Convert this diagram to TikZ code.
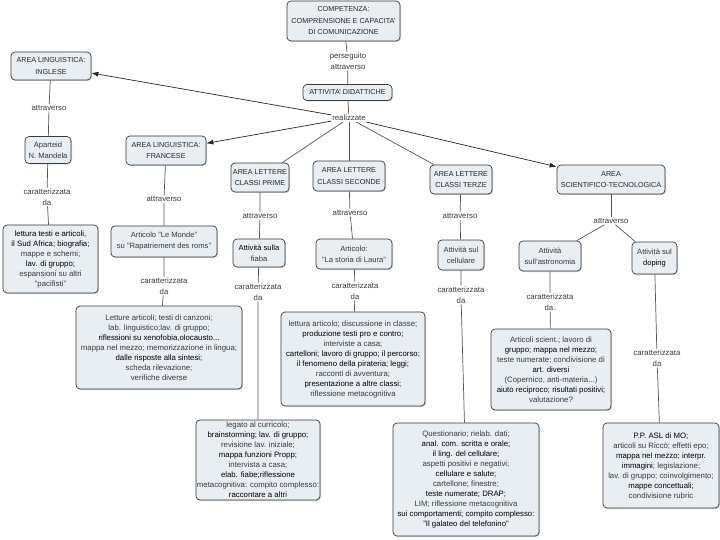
\documentclass[tikz,border=0pt]{standalone}
\usepackage{fontspec}
\setmainfont{Liberation Sans}
\usetikzlibrary{arrows.meta,shadows}
\definecolor{boxfill}{HTML}{E8EEF1}
\definecolor{boxline}{HTML}{3A3A3A}
\definecolor{linec}{HTML}{555555}
\definecolor{txtc}{HTML}{3A3A3A}
\newcommand{\dk}[1]{\textcolor{black}{#1}}
\begin{document}
\begin{tikzpicture}[x=1pt,y=-1pt,
  base/.style={draw=boxline, fill=boxfill, rounded corners=4pt, line width=0.7pt,
    align=center, inner sep=1pt, text=txtc,
    drop shadow={shadow xshift=1pt,shadow yshift=-1pt,fill=black!35}},
  head/.style={base, text=black!85, font=\fontsize{7.2}{11.5}\selectfont},
  small/.style={base, font=\fontsize{7.6}{11}\selectfont},
  txtbox/.style={base, font=\fontsize{7.8}{10}\selectfont},
  lbl/.style={fill=white, inner sep=1pt, align=center, text=txtc,
    font=\fontsize{7.8}{10.5}\selectfont},
  conn/.style={draw=linec, line width=0.7pt},
  arr/.style={draw=black!85, line width=0.7pt, -{Latex[length=7pt,width=5pt]}}]
\useasboundingbox (0,0) rectangle (720,540);
\fill[white] (0,0) rectangle (720,540);

% top
\node[head, minimum width=113pt, minimum height=40pt] (comp) at (343.5,21)
  {COMPETENZA:\\COMPRENSIONE E CAPACITA'\\DI COMUNICAZIONE};
\node[lbl] (pers) at (348,61) {perseguito\\attraverso};
\node[head, minimum width=89pt, minimum height=16pt] (att) at (347.5,92.5) {ATTIVITA' DIDATTICHE};
\node[lbl] (real) at (349,118) {realizzate};

% inglese
\node[head, minimum width=80pt, minimum height=28pt] (ing) at (51,66) {AREA LINGUISTICA:\\INGLESE};
\node[lbl] (ingA) at (49,108) {attraverso};
\node[small, minimum width=46pt, minimum height=27pt] (apar) at (48,150) {Aparteid\\N. Mandela};
\node[lbl] (ingC) at (47,197) {caratterizzata\\da};
\node[txtbox, minimum width=95pt, minimum height=68pt] (ingT) at (50.5,259)
  {\dk{lettura testi e articoli,}\\\dk{il Sud Africa; biografia;}\\mappe e schemi;\\\dk{lav. di gruppo;}\\espansioni su altri\\"pacifisti"};

% francese
\node[head, minimum width=80pt, minimum height=29pt] (fra) at (166,150.5) {AREA LINGUISTICA:\\FRANCESE};
\node[lbl] (fraA) at (164,199) {attraverso};
\node[small, minimum width=106pt, minimum height=31pt] (lem) at (164,241.5) {Articolo "Le Monde"\\su "Rapatriement des roms"};
\node[lbl] (fraC) at (164,286) {caratterizzata\\da};
\node[txtbox, minimum width=166pt, minimum height=83pt] (fraT) at (159,347.5)
  {Letture articoli; testi di canzoni;\\lab. linguistico;lav. di gruppo;\\\dk{riflessioni su xenofobia,olocausto...}\\mappa nel mezzo; memorizzazione in lingua;\\\dk{dalle risposte alla sintesi;}\\scheda rilevazione;\\verifiche diverse};

% prime
\node[head, minimum width=58pt, minimum height=29pt] (pri) at (260,177.5) {AREA LETTERE\\CLASSI PRIME};
\node[lbl] (priA) at (260,216) {attraverso};
\node[small, minimum width=52pt, minimum height=28pt] (fia) at (259,253) {\dk{Attività sulla}\\fiaba};
\node[lbl] (priC) at (258,292) {caratterizzata\\da};
\node[txtbox, minimum width=124pt, minimum height=80pt] (priT) at (258,460)
  {legato al curricolo;\\\dk{brainstorming; lav. di gruppo;}\\revisione lav. iniziale;\\\dk{mappa funzioni Propp;}\\intervista a casa;\\\dk{elab. fiabe;riflessione}\\metacognitiva: compito complesso:\\\dk{raccontare a altri}};

% seconde
\node[head, minimum width=72pt, minimum height=30pt] (sec) at (349,176) {AREA LETTERE\\CLASSI SECONDE};
\node[lbl] (secA) at (350,213) {attraverso};
\node[small, minimum width=76pt, minimum height=30pt] (lau) at (354,254) {Articolo:\\"La storia di Laura"};
\node[lbl] (secC) at (355,291) {caratterizzata\\da};
\node[txtbox, minimum width=144pt, minimum height=94pt] (secT) at (353,359)
  {lettura articolo; discussione in classe;\\\dk{produzione testi pro e contro;}\\interviste a casa;\\\dk{cartelloni; lavoro di gruppo; il percorso;}\\\dk{il fenomeno della pirateria; leggi;}\\racconti di avventura;\\\dk{presentazione a altre classi;}\\riflessione metacognitiva};

% terze
\node[head, minimum width=62pt, minimum height=29pt] (ter) at (461,179.5) {AREA LETTERE\\CLASSI TERZE};
\node[lbl] (terA) at (460,216) {attraverso};
\node[small, minimum width=46pt, minimum height=30pt] (cel) at (461,255) {Attività sul\\cellulare};
\node[lbl] (terC) at (461,295) {caratterizzata\\da};
\node[txtbox, minimum width=146pt, minimum height=113pt] (terT) at (466,479.5)
  {Questionario; rielab. dati;\\\dk{anal. com. scritta e orale;}\\\dk{il ling. del cellulare;}\\aspetti positivi e negativi;\\\dk{cellulare e salute;}\\cartellone; finestre;\\\dk{teste numerate; DRAP;}\\LIM; riflessione metacognitiva\\\dk{sui comportamenti; compito complesso:}\\\dk{"Il galateo del telefonino"}};

% scientifico
\node[head, minimum width=108pt, minimum height=29pt] (sci) at (611,179.5) {AREA\\SCIENTIFICO-TECNOLOGICA};
\node[lbl] (sciA) at (611,221) {attraverso};
\node[small, minimum width=62pt, minimum height=30pt] (ast) at (550,256) {Attività\\sull'astronomia};
\node[small, minimum width=45pt, minimum height=32pt] (dop) at (654.5,258) {Attività sul\\\dk{doping}};
\node[lbl] (astC) at (550,302) {caratterizzata\\da.};
\node[lbl] (dopC) at (657,358) {caratterizzata\\da};
\node[txtbox, minimum width=120pt, minimum height=81pt] (astT) at (551,369.5)
  {Articoli scient.; lavoro di\\\dk{gruppo; mappa nel mezzo;}\\teste numerate; condivisione di\\\dk{art. diversi}\\(Copernico, anti-materia...)\\\dk{aiuto reciproco; risultati positivi;}\\valutazione?};
\node[txtbox, minimum width=116pt, minimum height=85pt] (dopT) at (661,465.5)
  {\dk{P.P. ASL di MO;}\\articoli su Riccò; effetti epo;\\\dk{mappa nel mezzo; interpr.}\\\dk{immagini}; legislazione;\\lav. di gruppo; coinvolgimento;\\\dk{mappe concettuali;}\\condivisione rubric};

% connectors
\draw[conn] (comp) -- (pers) -- (att);
\draw[conn] (att) -- (real);
\draw[arr] (real) -- (ing);
\draw[arr] (real) -- (fra);
\draw[conn] (real) -- (pri);
\draw[conn] (real) -- (sec);
\draw[conn] (real) -- (ter);
\draw[arr] (real) -- (sci);

\draw[conn] (ing) -- (ingA) -- (apar) -- (ingC) -- (ingT);
\draw[conn] (fra) -- (fraA) -- (lem) -- (fraC) -- (fraT);
\draw[conn] (pri) -- (priA) -- (fia) -- (priC) -- (priT);
\draw[conn] (sec) -- (secA) -- (lau) -- (secC) -- (secT);
\draw[conn] (ter) -- (terA) -- (cel) -- (terC) -- (terT);
\draw[conn] (sci) -- (sciA);
\draw[conn] (sciA) -- (ast);
\draw[conn] (sciA) -- (dop);
\draw[conn] (ast) -- (astC) -- (astT);
\draw[conn] (dop) -- (dopC) -- (dopT);
\end{tikzpicture}
\end{document}
